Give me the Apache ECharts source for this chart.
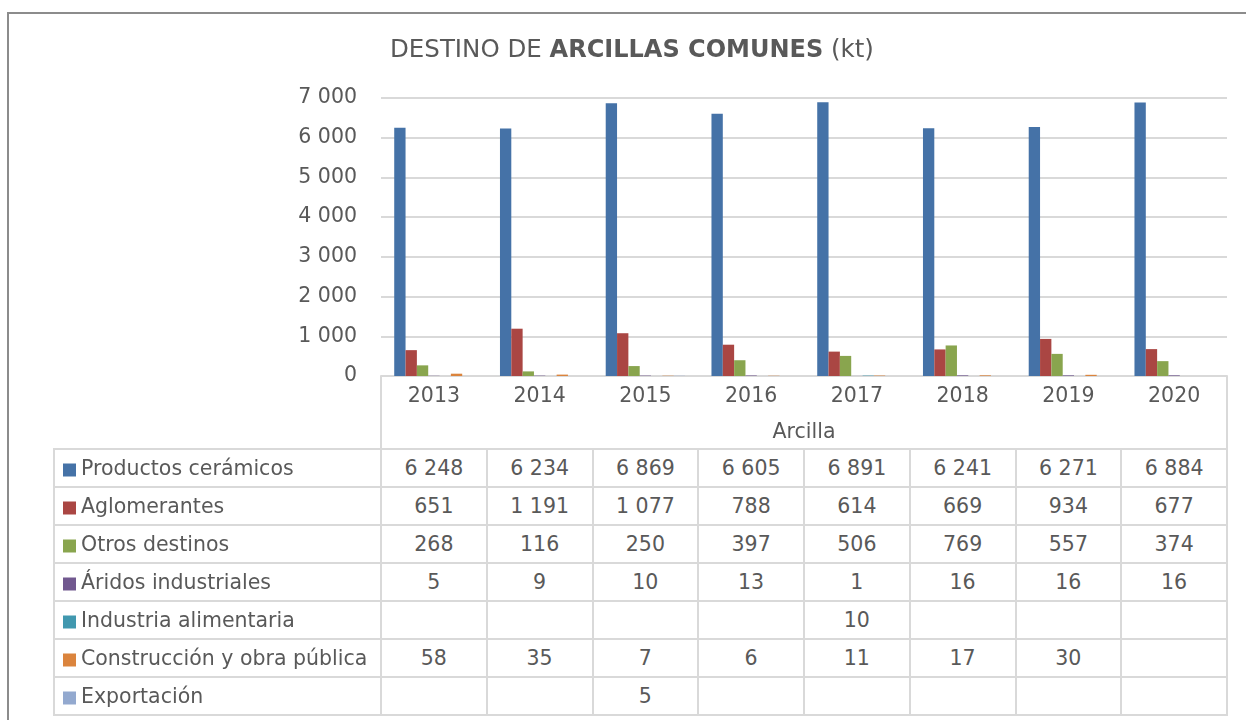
<!DOCTYPE html>
<html>
<head>
<meta charset="utf-8">
<script src="https://cdn.jsdelivr.net/npm/echarts@6/dist/echarts.min.js"></script>
<style>
html, body { margin: 0; padding: 0; background: #fff; }
.frame {
  position: absolute; left: 7px; top: 12px; width: 1300px; height: 800px;
  border-left: 2px solid #8c8c8c; border-top: 2px solid #8c8c8c;
}
.arcilla-box {
  position: absolute; left: 380px; top: 376px; width: 844px; height: 73px;
  border-left: 2px solid #d9d9d9; border-right: 2px solid #d9d9d9;
}
#tbl {
  position: absolute; left: 53px; top: 448px;
  border-collapse: collapse; table-layout: fixed;
  font-family: 'DejaVu Sans', sans-serif; font-size: 20.5px; color: #595959;
}
#tbl td {
  border: 2px solid #d9d9d9; padding: 0; text-align: center; white-space: nowrap;
}
#tbl tr { height: 38px; }
#chart { position: absolute; left: 0; top: 0; width: 1246px; height: 720px; z-index: 2; }
</style>
</head>
<body>
<div class="frame"></div>
<div class="arcilla-box"></div>
<table id="tbl"></table>
<div id="chart"></div>
<script>
// datos (kt)
const years = ['2013', '2014', '2015', '2016', '2017', '2018', '2019', '2020'];
const seriesNames = [
  'Productos cerámicos',
  'Aglomerantes',
  'Otros destinos',
  'Áridos industriales',
  'Industria alimentaria',
  'Construcción y obra pública',
  'Exportación'
];
const productos = [6248, 6234, 6869, 6605, 6891, 6241, 6271, 6884];
const aglomerantes = [651, 1191, 1077, 788, 614, 669, 934, 677];
const otros = [268, 116, 250, 397, 506, 769, 557, 374];
const aridos = [5, 9, 10, 13, 1, 16, 16, 16];
const alimentaria = [null, null, null, null, 10, null, null, null];
const construccion = [58, 35, 7, 6, 11, 17, 30, null];
const exportacion = [null, null, 5, null, null, null, null, null];
const colors = ['#4572a7', '#aa4643', '#89a54e', '#71588f', '#4198af', '#db843d', '#93a9cf'];

const allData = [productos, aglomerantes, otros, aridos, alimentaria, construccion, exportacion];
const font = 'DejaVu Sans';
const txt = '#595959';
const line = '#d9d9d9';

function fmt(v){
  if (v === null || v === undefined) return '';
  return String(v).replace(/\B(?=(\d{3})+(?!\d))/g, ' ');
}

// tabla de datos bajo el eje
let tbl = document.getElementById('tbl');
let html = '<colgroup><col style="width:327px">';
for (let i = 0; i < years.length; i++) html += '<col style="width:105.75px">';
html += '</colgroup>';
allData.forEach(function(row){
  html += '<tr><td></td>';
  row.forEach(function(v){ html += '<td>' + fmt(v) + '</td>'; });
  html += '</tr>';
});
tbl.innerHTML = html;

let myChart = echarts.init(document.getElementById('chart'));
let option = {
  backgroundColor: 'transparent',
  color: colors,
  title: {
    text: '{r|DESTINO DE }{b|ARCILLAS COMUNES}{r| (kt)}',
    left: 390,
    top: 36,
    padding: 0,
    textStyle: {
      fontWeight: 'normal',
      rich: {
        r: { fontFamily: font, fontSize: 24.5, fontWeight: 'normal', color: txt, lineHeight: 30 },
        b: { fontFamily: font, fontSize: 24, fontWeight: 'bold', color: txt, lineHeight: 30 }
      }
    }
  },
  legend: {
    data: seriesNames,
    orient: 'vertical',
    left: 63,
    top: 451,
    padding: 0,
    itemGap: 0,
    itemWidth: 13,
    itemHeight: 13,
    icon: 'rect',
    selectedMode: false,
    textStyle: { fontFamily: font, fontSize: 20.5, color: txt, lineHeight: 38 }
  },
  grid: {
    left: 381,
    right: 19,
    top: 98,
    height: 278
  },
  xAxis: {
    type: 'category',
    data: years,
    name: 'Arcilla',
    nameLocation: 'middle',
    nameGap: 45,
    nameTextStyle: { fontFamily: font, fontSize: 20.5, color: txt, lineHeight: 24 },
    axisLine: { lineStyle: { color: line, width: 2 } },
    axisTick: { interval: 0, length: 36, lineStyle: { color: line, width: 2 } },
    axisLabel: { interval: 0, margin: 9, fontFamily: font, fontSize: 20.5, color: txt, lineHeight: 24 }
  },
  yAxis: {
    type: 'value',
    min: 0,
    max: 7000,
    interval: 1000,
    axisLine: { show: false },
    axisTick: { show: false },
    axisLabel: {
      margin: 24,
      fontFamily: font,
      fontSize: 20.5,
      color: txt,
      formatter: fmt
    },
    splitLine: { lineStyle: { color: line, width: 2 } }
  },
  series: seriesNames.map(function(name, i){
    return {
      name: name,
      type: 'bar',
      data: allData[i],
      barGap: '0%',
      barCategoryGap: '25%'
    };
  })
};
myChart.setOption(option);
</script>
</body>
</html>
